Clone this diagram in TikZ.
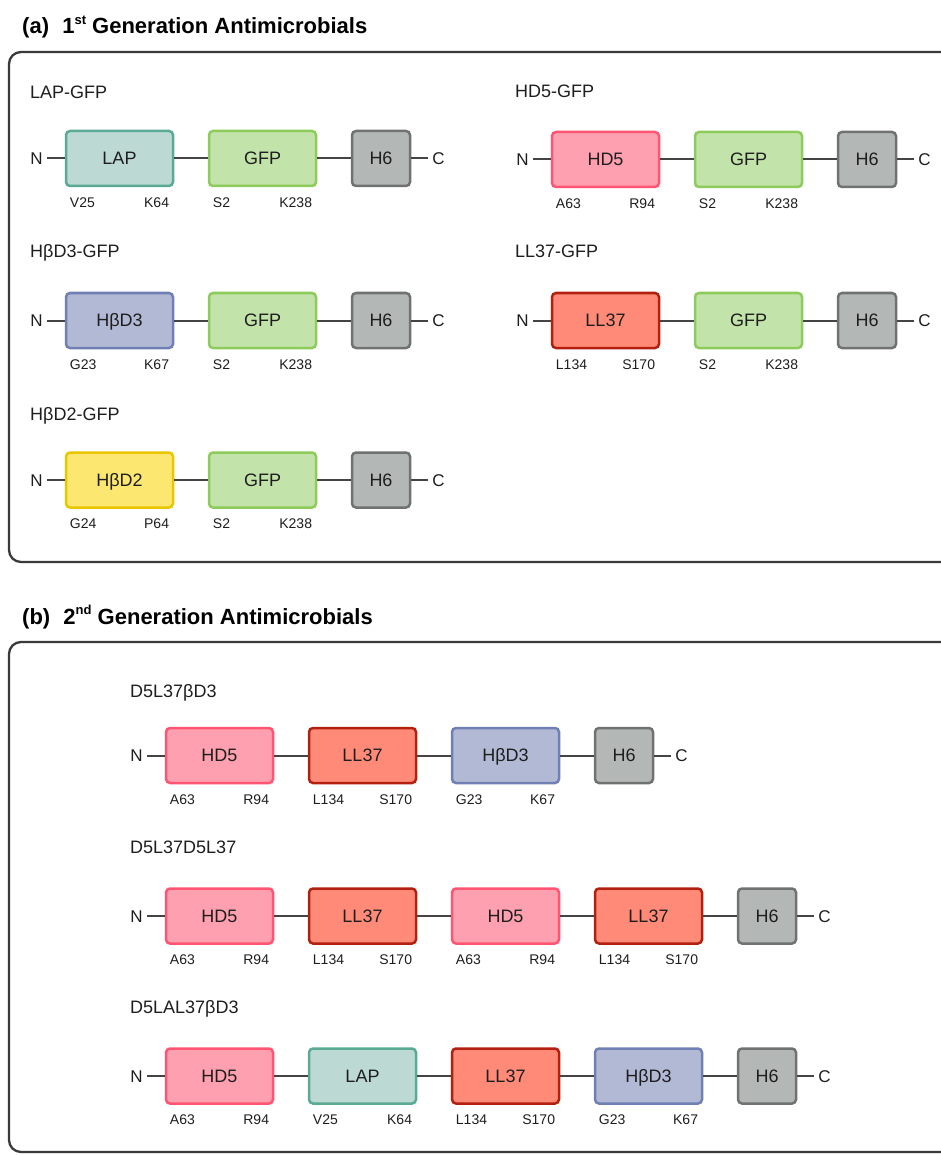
\documentclass[tikz,border=0pt]{standalone}
\usepackage{fontspec}
\setmainfont{Liberation Sans}
\usetikzlibrary{calc}
\definecolor{txt}{HTML}{1E1E1E}
\definecolor{linec}{HTML}{444444}
\definecolor{framec}{HTML}{3A3A3A}
\definecolor{lapfill}{HTML}{BCDAD3}
\definecolor{lapdraw}{HTML}{5AAA95}
\definecolor{gfpfill}{HTML}{C2E3A9}
\definecolor{gfpdraw}{HTML}{8DCB5B}
\definecolor{hsixfill}{HTML}{B3B8B6}
\definecolor{hsixdraw}{HTML}{6F7270}
\definecolor{hdfivefill}{HTML}{FFA0B0}
\definecolor{hdfivedraw}{HTML}{FF5573}
\definecolor{llfill}{HTML}{FF8A77}
\definecolor{lldraw}{HTML}{B3200F}
\definecolor{bdthreefill}{HTML}{B2B9D4}
\definecolor{bdthreedraw}{HTML}{7180B4}
\definecolor{bdtwofill}{HTML}{FCE870}
\definecolor{bdtwodraw}{HTML}{E9C600}
\tikzset{
  dom/.style={draw, line width=2.5pt, rounded corners=4pt, minimum width=107pt,
    minimum height=55pt, inner sep=0pt, font=\fontsize{18}{20}\selectfont,
    text height=12.9pt, text depth=0pt, text=txt},
  lapbox/.style={dom, fill=lapfill, draw=lapdraw},
  gfpbox/.style={dom, fill=gfpfill, draw=gfpdraw},
  hsixbox/.style={dom, minimum width=58pt, fill=hsixfill, draw=hsixdraw},
  hdfivebox/.style={dom, fill=hdfivefill, draw=hdfivedraw},
  llbox/.style={dom, fill=llfill, draw=lldraw},
  bdthreebox/.style={dom, fill=bdthreefill, draw=bdthreedraw},
  bdtwobox/.style={dom, fill=bdtwofill, draw=bdtwodraw},
  term/.style={inner sep=4pt, font=\fontsize{17}{20}\selectfont, text height=12.2pt,
    text depth=0pt, text=txt},
  link/.style={line width=2pt, draw=linec},
  rowtitle/.style={inner sep=0pt, font=\fontsize{18}{20}\selectfont, text=txt, anchor=base west},
  reslab/.style={inner sep=0pt, font=\fontsize{14}{16}\selectfont, text=txt},
  secttitle/.style={inner sep=0pt, font=\bfseries\fontsize{22}{26}\selectfont, text=black, anchor=base west},
  panelframe/.style={line width=2.3pt, draw=framec, rounded corners=12pt}
}
\newcommand\reslabs[3]{%
  \node[reslab, anchor=base west] (#1-lres) at ($(#1.south west)+(5,20)$) {#2};
  \node[reslab, anchor=base east] (#1-rres) at ($(#1.south east)+(-5,20)$) {#3};}
\newcommand\termini[3]{%
  \node[term, anchor=east] (#1-nterm) at ($(#2.west)+(-18,0)$) {N};
  \node[term, anchor=west] (#1-cterm) at ($(#3.east)+(17,0)$) {C};
  \draw[link] (#1-nterm) -- (#2);
  \draw[link] (#3) -- (#1-cterm);}
\newcommand\ordsup[1]{\raisebox{0.42em}{\fontsize{13}{14}\selectfont #1}}
\begin{document}
\begin{tikzpicture}[x=1pt,y=-1pt]
\useasboundingbox (0,0) rectangle (941,1155);
\clip (0,0) rectangle (941,1155);
\fill[white] (0,0) rectangle (941,1155);

% ---------------- (a) ----------------
\node[secttitle] (ta) at (22,34) {(a)\hspace{0.6em}1\ordsup{st} Generation Antimicrobials};
\draw[panelframe] (9,52) rectangle (980,562);

% LAP-GFP
\node[rowtitle] (a1t) at (30,99) {LAP-GFP};
\node[lapbox] (a1a) at (119.5,158.5) {LAP};
\node[gfpbox] (a1b) at (262.5,158.5) {GFP};
\node[hsixbox] (a1h) at (381,158.5) {H6};
\draw[link] (a1a) -- (a1b);
\draw[link] (a1b) -- (a1h);
\termini{a1}{a1a}{a1h}
\reslabs{a1a}{V25}{K64}
\reslabs{a1b}{S2}{K238}

% HbD3-GFP
\node[rowtitle] (a2t) at (30,258) {HβD3-GFP};
\node[bdthreebox] (a2a) at (119.5,320.5) {HβD3};
\node[gfpbox] (a2b) at (262.5,320.5) {GFP};
\node[hsixbox] (a2h) at (381,320.5) {H6};
\draw[link] (a2a) -- (a2b);
\draw[link] (a2b) -- (a2h);
\termini{a2}{a2a}{a2h}
\reslabs{a2a}{G23}{K67}
\reslabs{a2b}{S2}{K238}

% HbD2-GFP
\node[rowtitle] (a3t) at (30,420) {HβD2-GFP};
\node[bdtwobox] (a3a) at (119.5,480) {HβD2};
\node[gfpbox] (a3b) at (262.5,480) {GFP};
\node[hsixbox] (a3h) at (381,480) {H6};
\draw[link] (a3a) -- (a3b);
\draw[link] (a3b) -- (a3h);
\termini{a3}{a3a}{a3h}
\reslabs{a3a}{G24}{P64}
\reslabs{a3b}{S2}{K238}

% HD5-GFP
\node[rowtitle] (a4t) at (515,98) {HD5-GFP};
\node[hdfivebox] (a4a) at (605.5,159.5) {HD5};
\node[gfpbox] (a4b) at (748.5,159.5) {GFP};
\node[hsixbox] (a4h) at (867,159.5) {H6};
\draw[link] (a4a) -- (a4b);
\draw[link] (a4b) -- (a4h);
\termini{a4}{a4a}{a4h}
\reslabs{a4a}{A63}{R94}
\reslabs{a4b}{S2}{K238}

% LL37-GFP
\node[rowtitle] (a5t) at (515,258) {LL37-GFP};
\node[llbox] (a5a) at (605.5,320.5) {LL37};
\node[gfpbox] (a5b) at (748.5,320.5) {GFP};
\node[hsixbox] (a5h) at (867,320.5) {H6};
\draw[link] (a5a) -- (a5b);
\draw[link] (a5b) -- (a5h);
\termini{a5}{a5a}{a5h}
\reslabs{a5a}{L134}{S170}
\reslabs{a5b}{S2}{K238}

% ---------------- (b) ----------------
\node[secttitle] (tb) at (22,624) {(b)\hspace{0.6em}2\ordsup{nd} Generation Antimicrobials};
\draw[panelframe] (9,642) rectangle (980,1152);

% D5L37bD3
\node[rowtitle] (b1t) at (130,697) {D5L37βD3};
\node[hdfivebox] (b1a) at (219.5,755.5) {HD5};
\node[llbox] (b1b) at (362.5,755.5) {LL37};
\node[bdthreebox] (b1c) at (505.5,755.5) {HβD3};
\node[hsixbox] (b1h) at (624,755.5) {H6};
\draw[link] (b1a) -- (b1b);
\draw[link] (b1b) -- (b1c);
\draw[link] (b1c) -- (b1h);
\termini{b1}{b1a}{b1h}
\reslabs{b1a}{A63}{R94}
\reslabs{b1b}{L134}{S170}
\reslabs{b1c}{G23}{K67}

% D5L37D5L37
\node[rowtitle] (b2t) at (130,853) {D5L37D5L37};
\node[hdfivebox] (b2a) at (219.5,916) {HD5};
\node[llbox] (b2b) at (362.5,916) {LL37};
\node[hdfivebox] (b2c) at (505.5,916) {HD5};
\node[llbox] (b2d) at (648.5,916) {LL37};
\node[hsixbox] (b2h) at (767,916) {H6};
\draw[link] (b2a) -- (b2b);
\draw[link] (b2b) -- (b2c);
\draw[link] (b2c) -- (b2d);
\draw[link] (b2d) -- (b2h);
\termini{b2}{b2a}{b2h}
\reslabs{b2a}{A63}{R94}
\reslabs{b2b}{L134}{S170}
\reslabs{b2c}{A63}{R94}
\reslabs{b2d}{L134}{S170}

% D5LAL37bD3
\node[rowtitle] (b3t) at (130,1013) {D5LAL37βD3};
\node[hdfivebox] (b3a) at (219.5,1076) {HD5};
\node[lapbox] (b3b) at (362.5,1076) {LAP};
\node[llbox] (b3c) at (505.5,1076) {LL37};
\node[bdthreebox] (b3d) at (648.5,1076) {HβD3};
\node[hsixbox] (b3h) at (767,1076) {H6};
\draw[link] (b3a) -- (b3b);
\draw[link] (b3b) -- (b3c);
\draw[link] (b3c) -- (b3d);
\draw[link] (b3d) -- (b3h);
\termini{b3}{b3a}{b3h}
\reslabs{b3a}{A63}{R94}
\reslabs{b3b}{V25}{K64}
\reslabs{b3c}{L134}{S170}
\reslabs{b3d}{G23}{K67}
\end{tikzpicture}
\end{document}
